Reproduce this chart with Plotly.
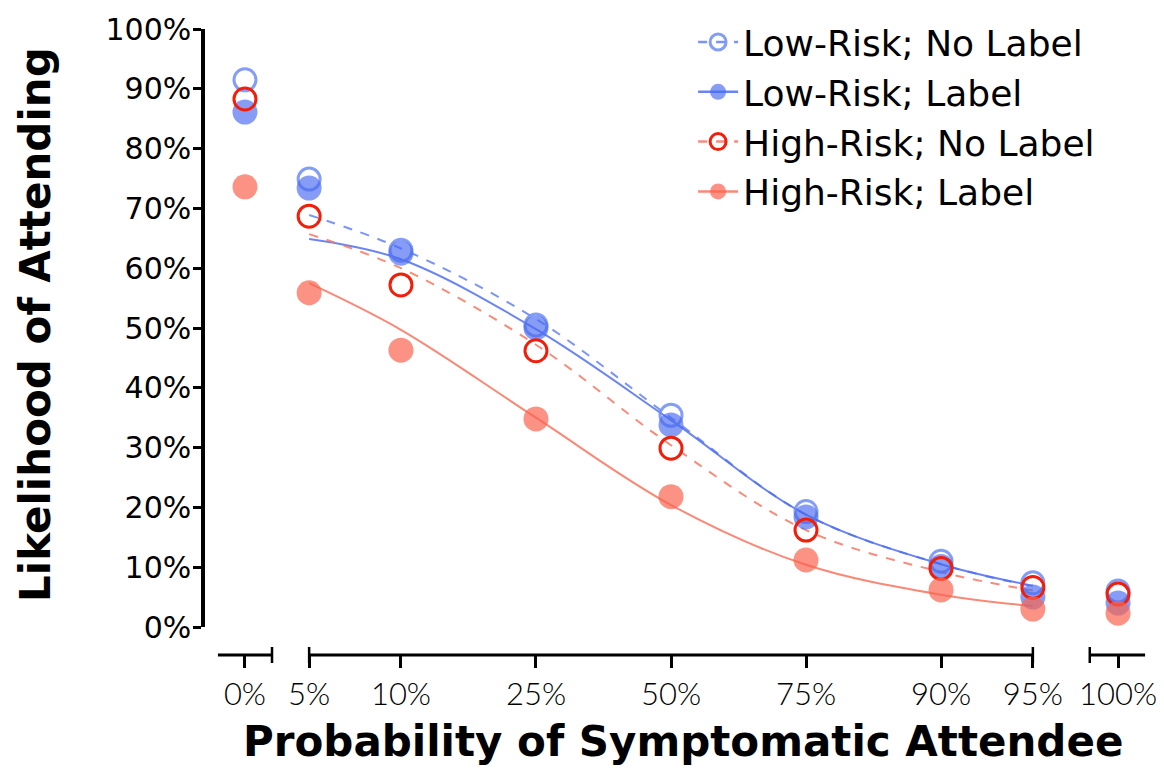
import math
import plotly.graph_objects as go

# ---------------- data ----------------
probs = [0, 5, 10, 25, 50, 75, 90, 95, 100]
prob_labels = ["0%", "5%", "10%", "25%", "50%", "75%", "90%", "95%", "100%"]

low_nolabel = [91.5, 74.9, 63.0, 50.5, 35.4, 19.3, 11.0, 7.4, 6.0]
low_label = [86.1, 73.4, 62.5, 50.0, 33.8, 18.4, 10.1, 5.0, 4.0]
high_nolabel = [88.3, 68.7, 57.2, 46.2, 29.9, 16.2, 9.8, 6.6, 5.5]
high_label = [73.6, 55.9, 46.3, 34.8, 21.8, 11.2, 6.2, 3.0, 2.3]

fit_probs = [5, 10, 25, 50, 75, 90, 95]
fit_low_nolabel = [68.9, 63.3, 51.5, 35.0, 18.8, 10.5, 6.8]
fit_low_label = [64.9, 61.5, 49.8, 34.6, 18.8, 10.5, 6.9]
fit_high_nolabel = [65.7, 60.0, 47.2, 30.4, 16.2, 9.2, 6.1]
fit_high_label = [57.5, 49.7, 35.0, 20.4, 10.4, 5.4, 3.5]

y_ticks = list(range(0, 101, 10))
y_tick_labels = [f"{v}%" for v in y_ticks]

# ---------------- x scale (logit with broken ends) ----------------
def logit(p):
    return math.log(p / (100.0 - p))

LEFT_BREAK = 0.522
RIGHT_BREAK = 0.693


def xpos(p):
    if p <= 0:
        return logit(5) - LEFT_BREAK
    if p >= 100:
        return logit(95) + RIGHT_BREAK
    return logit(p)


xs = [xpos(p) for p in probs]
fxs = [xpos(p) for p in fit_probs]

BLUE_LINE = "rgba(80,110,240,0.85)"
BLUE_DASH = "rgba(100,130,245,0.85)"
RED_DASH = "rgba(245,120,100,0.85)"
RED_LINE = "rgba(248,115,95,0.85)"

fig = go.Figure()

series = [
    ("Low-Risk; No Label", low_nolabel, fit_low_nolabel, "dash", BLUE_DASH,
     dict(symbol="circle-open", size=22, color="rgba(110,140,245,0.85)",
          line=dict(width=3, color="rgba(110,140,245,0.85)"))),
    ("Low-Risk; Label", low_label, fit_low_label, "solid", BLUE_LINE,
     dict(symbol="circle", size=25, color="rgba(70,105,240,0.65)", line=dict(width=0))),
    ("High-Risk; No Label", high_nolabel, fit_high_nolabel, "dash", RED_DASH,
     dict(symbol="circle-open", size=22, color="rgb(242,30,10)",
          line=dict(width=3, color="rgb(242,30,10)"))),
    ("High-Risk; Label", high_label, fit_high_label, "solid", RED_LINE,
     dict(symbol="circle", size=25, color="rgba(250,100,80,0.7)", line=dict(width=0))),
]

# fitted curves (no legend) and points
for name, pts, fit, dash, lcol, mk in series:
    fig.add_trace(go.Scatter(
        x=fxs, y=fit, mode="lines", line=dict(color=lcol, width=2, dash=dash, shape="spline"),
        showlegend=False, hoverinfo="skip", cliponaxis=False))

for name, pts, fit, dash, lcol, mk in series:
    fig.add_trace(go.Scatter(
        x=xs, y=pts, mode="markers", marker=mk, showlegend=False,
        name=name, cliponaxis=False))

# legend entries
for name, pts, fit, dash, lcol, mk in series:
    fig.add_trace(go.Scatter(
        x=[None], y=[None], mode="lines+markers", name=name,
        line=dict(color=lcol, width=2.5, dash=dash), marker=mk))

# ---------------- broken x axis drawn as shapes ----------------
seg_left = (xpos(0) - 0.22, xpos(0) + 0.22)
seg_main = (xpos(5), xpos(95))
seg_right = (xpos(100) - 0.23, xpos(100) + 0.22)
shapes = []
for a, b in (seg_left, seg_main, seg_right):
    shapes.append(dict(type="line", xref="x", yref="paper", x0=a, x1=b, y0=0, y1=0,
                       line=dict(color="black", width=3)))
for cx in (seg_left[1], seg_main[0], seg_main[1], seg_right[0]):
    shapes.append(dict(type="line", xref="x", yref="paper", ysizemode="pixel", yanchor=0,
                       x0=cx, x1=cx, y0=-8, y1=8, line=dict(color="black", width=2.5)))

TITLE_FONT = dict(family="DejaVu Sans", size=42, color="black")

# the page body keeps its default 8px margin, so the figure is 8px smaller
fig.update_layout(
    width=1156, height=770,
    margin=dict(l=197, r=14, t=21, b=123, autoexpand=False),
    paper_bgcolor="white", plot_bgcolor="white",
    shapes=shapes,
    showlegend=True,
    legend=dict(x=0.5165, y=1.027, xanchor="left", yanchor="top",
                font=dict(family="DejaVu Sans", size=36, color="black"),
                bgcolor="rgba(0,0,0,0)", itemwidth=40, tracegroupgap=0),
    xaxis=dict(range=[(205 - 671) / 122.9, (1150 - 671) / 122.9],
               tickvals=xs, ticktext=prob_labels,
               ticks="outside", ticklen=12, tickwidth=2.5, tickcolor="black",
               showline=False, showgrid=False, zeroline=False,
               anchor="free", position=0, automargin=False,
               tickfont=dict(family="Lato", size=31, weight=300, color="black")),
    yaxis=dict(range=[0, 100], domain=[28 / 626, 1], automargin=False,
               tickvals=y_ticks, ticktext=y_tick_labels,
               ticks="outside", ticklen=8, tickwidth=2.5, tickcolor="black",
               ticklabelstandoff=-4,
               showline=True, linewidth=3.5, linecolor="black",
               showgrid=False, zeroline=False,
               tickfont=dict(family="DejaVu Sans", size=30, color="black")),
    annotations=[
        dict(text="<b>Probability of Symptomatic Attendee</b>", xref="paper", yref="paper",
             x=(683 - 205) / 945, y=-86 / 626, xanchor="center", yanchor="middle",
             showarrow=False, font=TITLE_FONT),
        dict(text="<b>Likelihood of Attending</b>", xref="paper", yref="paper",
             x=-170 / 945, y=(655 - 325) / 626, xanchor="center", yanchor="middle",
             textangle=-90, showarrow=False, font=TITLE_FONT),
    ],
)

fig.write_html("out.html")
